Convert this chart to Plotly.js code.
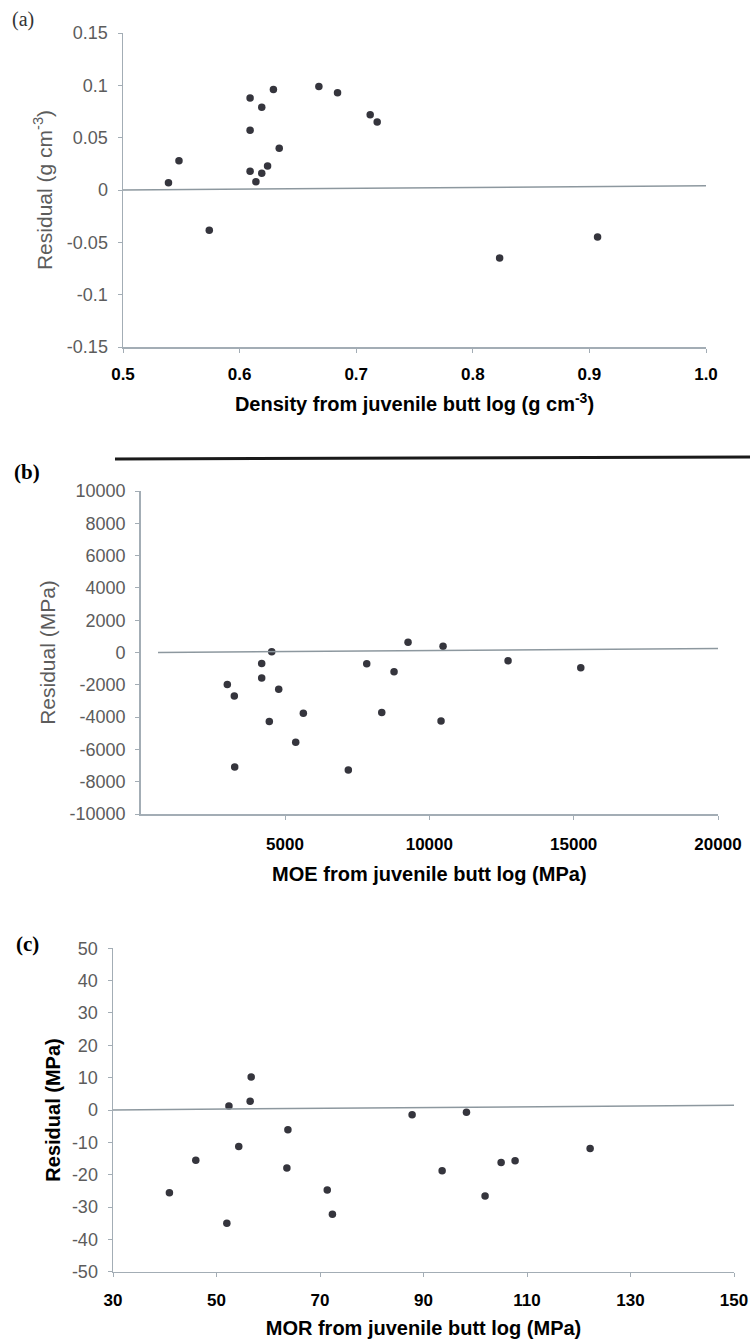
<!DOCTYPE html>
<html>
<head>
<meta charset="utf-8">
<script src="https://cdn.plot.ly/plotly-3.0.1.min.js"></script>
<style>html,body{margin:0;padding:0;background:#fff;} #chart{width:752px;height:1340px;}</style>
</head>
<body>
<div id="chart"></div>
<script>
// ---- Panel (a): density ----
const densityX = [0.539, 0.548, 0.574, 0.609, 0.609, 0.609, 0.614, 0.619, 0.619, 0.624, 0.629, 0.634, 0.668, 0.684, 0.712, 0.718, 0.823, 0.907];
const densityResid = [0.007, 0.028, -0.0385, 0.088, 0.057, 0.018, 0.008, 0.016, 0.079, 0.023, 0.096, 0.040, 0.099, 0.093, 0.072, 0.065, -0.065, -0.045];
const densityXTicks = [0.5, 0.6, 0.7, 0.8, 0.9, 1.0];
const densityXTickText = ['0.5', '0.6', '0.7', '0.8', '0.9', '1.0'];
const densityYTicks = [0.15, 0.1, 0.05, 0, -0.05, -0.1, -0.15];
const densityYTickText = ['0.15', '0.1', '0.05', '0', '-0.05', '-0.1', '-0.15'];

// ---- Panel (b): MOE ----
const moeX = [3000, 3243, 3257, 4192, 4192, 4539, 4456, 4781, 5370, 5634, 7193, 7831, 8351, 8777, 9262, 10405, 10475, 12727, 15246];
const moeResid = [-1985, -2688, -7090, -682, -1572, 43, -4280, -2275, -5563, -3764, -7280, -703, -3722, -1199, 640, -4240, 393, -517, -952];
const moeXTicks = [5000, 10000, 15000, 20000];
const moeXTickText = ['5000', '10000', '15000', '20000'];
const moeYTicks = [10000, 8000, 6000, 4000, 2000, 0, -2000, -4000, -6000, -8000, -10000];
const moeYTickText = ['10000', '8000', '6000', '4000', '2000', '0', '-2000', '-4000', '-6000', '-8000', '-10000'];

// ---- Panel (c): MOR ----
const morX = [40.9, 46.0, 52.0, 52.4, 54.3, 56.5, 56.7, 63.6, 63.8, 71.4, 72.4, 87.8, 93.6, 98.3, 101.9, 105.0, 107.7, 122.2];
const morResid = [-25.6, -15.5, -35.0, 1.2, -11.3, 2.7, 10.2, -17.9, -6.1, -24.7, -32.2, -1.5, -18.8, -0.7, -26.6, -16.2, -15.7, -11.9];
const morXTicks = [30, 50, 70, 90, 110, 130, 150];
const morXTickText = ['30', '50', '70', '90', '110', '130', '150'];
const morYTicks = [50, 40, 30, 20, 10, 0, -10, -20, -30, -40, -50];
const morYTickText = ['50', '40', '30', '20', '10', '0', '-10', '-20', '-30', '-40', '-50'];

const W = 752, H = 1340;
const px = v => v / W;
const py = v => 1 - v / H;

const SANS = 'Liberation Sans, Arial, sans-serif';
const SERIF = 'Liberation Serif, Times New Roman, serif';
const AXIS_COL = '#a3adb5';
const TICKLBL_GREY = '#5c5c5c';
const MARKER_COL = '#35353d';

function marker() { return {size: 7.5, color: MARKER_COL}; }

const traces = [
  {x: densityX, y: densityResid, type: 'scatter', mode: 'markers', marker: marker(), xaxis: 'x', yaxis: 'y', showlegend: false, hoverinfo: 'x+y'},
  {x: moeX, y: moeResid, type: 'scatter', mode: 'markers', marker: marker(), xaxis: 'x2', yaxis: 'y2', showlegend: false, hoverinfo: 'x+y'},
  {x: morX, y: morResid, type: 'scatter', mode: 'markers', marker: marker(), xaxis: 'x3', yaxis: 'y3', showlegend: false, hoverinfo: 'x+y'}
];

function xAxis(domain, range, vals, text, title, anchor, lblStandoff, standoff) {
  return {
    domain: domain, range: range, anchor: anchor,
    tickmode: 'array', tickvals: vals, ticktext: text,
    showline: true, linecolor: AXIS_COL, linewidth: 1.5,
    ticks: 'outside', ticklen: 4, tickcolor: AXIS_COL, tickwidth: 1,
    showgrid: false, zeroline: false,
    tickfont: {family: SANS, size: 17, color: '#000', weight: 'bold'},
    ticklabelstandoff: lblStandoff,
    title: {text: title, font: {family: SANS, size: 20, color: '#000', weight: 'bold'}, standoff: standoff},
    automargin: false, fixedrange: true
  };
}
function yAxis(domain, range, vals, text, title, anchor, tfont, standoff) {
  return {
    domain: domain, range: range, anchor: anchor,
    tickmode: 'array', tickvals: vals, ticktext: text,
    showline: true, linecolor: AXIS_COL, linewidth: 1.5,
    ticks: 'outside', ticklen: 4, tickcolor: AXIS_COL, tickwidth: 1,
    showgrid: false, zeroline: false,
    tickfont: {family: SANS, size: 18, color: TICKLBL_GREY},
    ticklabelstandoff: 6,
    title: {text: title, font: tfont, standoff: standoff},
    automargin: false, fixedrange: true
  };
}

const layout = {
  width: W, height: H,
  margin: {l: 0, r: 0, t: 0, b: 0},
  paper_bgcolor: '#fff', plot_bgcolor: '#fff',
  showlegend: false,
  xaxis: xAxis([px(123), px(706)], [0.5, 1.0], densityXTicks, densityXTickText, 'Density from juvenile butt log (g cm<sup>-3</sup>)', 'y', 7, 14),
  yaxis: yAxis([py(347), py(33)], [-0.15, 0.15], densityYTicks, densityYTickText, 'Residual (g cm<sup>-3</sup>)', 'x', {family: SANS, size: 21, color: TICKLBL_GREY}, 8),
  xaxis2: xAxis([px(140.7), px(718)], [0, 20000], moeXTicks, moeXTickText, 'MOE from juvenile butt log (MPa)', 'y2', 10, 14),
  yaxis2: yAxis([py(814), py(491)], [-10000, 10000], moeYTicks, moeYTickText, 'Residual (MPa)', 'x2', {family: SANS, size: 21, color: TICKLBL_GREY}, 8),
  xaxis3: xAxis([px(113), px(734)], [30, 150], morXTicks, morXTickText, 'MOR from juvenile butt log (MPa)', 'y3', 8, 12),
  yaxis3: yAxis([py(1271.7), py(948.3)], [-50, 50], morYTicks, morYTickText, 'Residual (MPa)', 'x3', {family: SANS, size: 20, color: '#000', weight: 'bold'}, 6),
  shapes: [
    {type: 'line', xref: 'x', yref: 'y', x0: 0.5, x1: 1.0, y0: 0, y1: 0.004, line: {color: '#8d989f', width: 1.5}},
    {type: 'line', xref: 'x2', yref: 'y2', x0: 600, x1: 20000, y0: 0, y1: 250, line: {color: '#8d989f', width: 1.5}},
    {type: 'line', xref: 'x3', yref: 'y3', x0: 29, x1: 150, y0: 0, y1: 1.5, line: {color: '#8d989f', width: 1.5}},
    {type: 'line', xref: 'paper', yref: 'paper', x0: px(115), x1: px(750), y0: py(459), y1: py(457), line: {color: '#1a1a1a', width: 3}}
  ],
  annotations: [
    {text: '(a)', xref: 'paper', yref: 'paper', x: px(10), y: py(6), xanchor: 'left', yanchor: 'top', showarrow: false, font: {family: SERIF, size: 20, color: '#333'}},
    {text: '<b>(b)</b>', xref: 'paper', yref: 'paper', x: px(12), y: py(458), xanchor: 'left', yanchor: 'top', showarrow: false, font: {family: SERIF, size: 21, color: '#000'}},
    {text: '<b>(c)</b>', xref: 'paper', yref: 'paper', x: px(14), y: py(930), xanchor: 'left', yanchor: 'top', showarrow: false, font: {family: SERIF, size: 21, color: '#000'}}
  ]
};

Plotly.newPlot('chart', traces, layout, {staticPlot: true, displayModeBar: false});
</script>
</body>
</html>
